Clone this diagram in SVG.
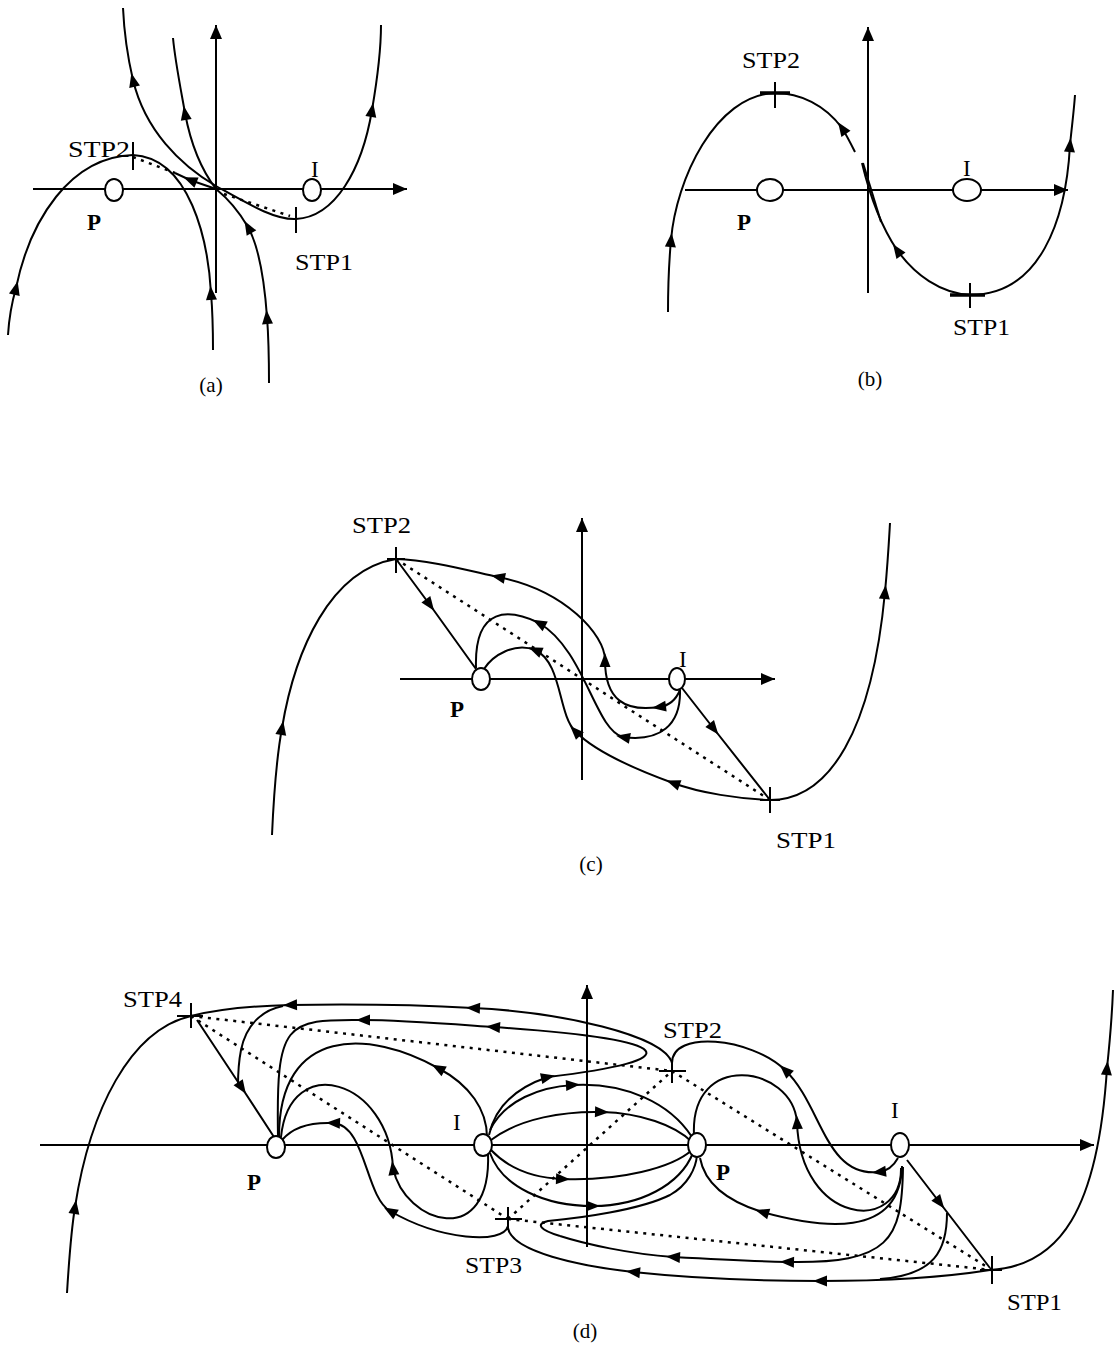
<svg xmlns="http://www.w3.org/2000/svg" width="1118" height="1352" viewBox="0 0 1118 1352">
<defs>
<marker id="ar" viewBox="-8 -6 16 12" refX="0" refY="0" markerWidth="16" markerHeight="12" markerUnits="userSpaceOnUse" orient="auto"><path d="M-7,-5.5 L7,0 L-7,5.5 Z" fill="#000"/></marker>
<marker id="ah" viewBox="-15 -7 16 14" refX="0" refY="0" markerWidth="16" markerHeight="14" markerUnits="userSpaceOnUse" orient="auto"><path d="M0,0 L-14,-6 L-14,6 Z" fill="#000"/></marker>
<style>
.c{fill:none;stroke:#000;stroke-width:2}
.m{marker-mid:url(#ar)}
.d{fill:none;stroke:#000;stroke-width:2.5;stroke-dasharray:3 5.5}
.ax{fill:none;stroke:#000;stroke-width:2;marker-end:url(#ah)}
.n{fill:#fff;stroke:#000;stroke-width:2}
.tk{fill:none;stroke:#000;stroke-width:2}
.t{font-family:"Liberation Serif","Times New Roman",serif;font-size:23px;fill:#000}
.b{font-weight:bold}
.cap{font-size:21px;text-anchor:middle}
</style>
</defs>
<rect width="1118" height="1352" fill="#fff"/>

<!-- Panel (a) -->
<g id="panel-a">
<g id="a-axes">
<path class="ax" d="M33,189 H407"/>
<path class="ax" d="M216,293 V25"/>
</g>
<g id="a-connectors">
<path class="c m" d="M8,335 C9,318 12,302 16,288 C30,220 70,157 133,155"/>
<path class="c m" d="M213,350 C213,325 212,305 211,293 C208,240 190,158 133,155"/>
<path class="c m" d="M216,186 C180,165 145,130 133,80 C126,50 124,30 123,8"/>
<path class="c" d="M216,186 C250,205 275,220 296,219"/>
<path class="c m" d="M296,219 C335,217 362,170 372,110 C378,75 381,45 381,25"/>
<path class="c m" d="M269,383 C269,350 268,330 267,317 C264,275 258,245 248,227 C238,210 226,197 216,189"/>
<path class="c m" d="M216,189 C200,168 190,140 185,113 C180,85 175,60 173,38"/>
<path class="c m" d="M216,189 L190,180 L175,173"/>
<path class="d" d="M133,157 L175,173"/>
<path class="d" d="M224,194 L290,216"/>
<path class="tk" d="M133,142 V170 M296,207 V233"/>
</g>
<g id="a-node-P"><ellipse class="n" cx="114" cy="190" rx="9" ry="11"/><text class="t b" x="87" y="230">P</text></g>
<g id="a-node-I"><ellipse class="n" cx="312" cy="190" rx="9" ry="11"/><text class="t" x="311" y="177">I</text></g>
<g id="a-labels">
<text class="t" x="68" y="157" textLength="62" lengthAdjust="spacingAndGlyphs">STP2</text>
<text class="t" x="295" y="270" textLength="58" lengthAdjust="spacingAndGlyphs">STP1</text>
<text class="t cap" x="211" y="392">(a)</text>
</g>
</g>

<!-- Panel (b) -->
<g id="panel-b">
<g id="b-axes">
<path class="ax" d="M685,190 H1068"/>
<path class="ax" d="M868,293 V27"/>
</g>
<g id="b-connectors">
<path class="c m" d="M668,312 C668,285 669,262 671,240 C676,180 715,95 775,93"/>
<path class="c m" d="M855,152 C851,144 847,136 842,128 C825,105 800,93 775,93"/>
<path class="c m" d="M970,295 C940,293 915,275 897,250 C885,232 872,205 862,163"/>
<path class="c m" d="M970,295 C1040,295 1066,220 1070,145 C1072,125 1074,110 1075,95"/>
<path class="c" d="M863,163 L881,222"/>
<path class="tk" d="M775,82 V108 M970,283 V308"/>
<path class="tk" style="stroke-width:3.5" d="M760,93 H790 M950,295 H985"/>
</g>
<g id="b-node-P"><ellipse class="n" cx="770" cy="190" rx="13" ry="11"/><text class="t b" x="737" y="230">P</text></g>
<g id="b-node-I"><ellipse class="n" cx="967" cy="190" rx="14" ry="11"/><text class="t" x="963" y="176">I</text></g>
<g id="b-labels">
<text class="t" x="742" y="68" textLength="58" lengthAdjust="spacingAndGlyphs">STP2</text>
<text class="t" x="953" y="335" textLength="57" lengthAdjust="spacingAndGlyphs">STP1</text>
<text class="t cap" x="870" y="386">(b)</text>
</g>
</g>

<!-- Panel (c) -->
<g id="panel-c">
<g id="c-axes">
<path class="ax" d="M400,679 H775"/>
<path class="ax" d="M582,780 V518"/>
</g>
<g id="c-connectors">
<path class="d" d="M396,559 L770,800"/>
<path class="c m" d="M272,835 C274,790 277,755 282,728 C295,650 330,570 396,559"/>
<path class="c m" d="M680,690 C675,702 668,706 659,707 C625,712 605,700 605,660 C605,635 565,590 498,577 C470,571 430,560 396,559"/>
<path class="c m" d="M680,690 C681,725 660,742 623,737 C595,730 585,650 539,623 C510,609 474,605 476,668"/>
<path class="c m" d="M770,800 C740,799 700,793 673,783 C640,771 595,752 575,731 C558,714 562,662 535,650 C515,642 493,655 484,669"/>
<path class="c m" d="M396,559 L430,605 L476,669"/>
<path class="c m" d="M682,688 L714,729 L770,800"/>
<path class="c m" d="M770,800 C830,800 872,730 885,592 C888,560 889,540 890,523"/>
<path class="tk" d="M396,547 V573 M387,559 H405 M770,787 V813 M760,800 H780"/>
</g>
<g id="c-node-P"><ellipse class="n" cx="481" cy="679" rx="9" ry="11"/><text class="t b" x="450" y="717">P</text></g>
<g id="c-node-I"><ellipse class="n" cx="677" cy="679" rx="8" ry="11"/><text class="t" x="679" y="667">I</text></g>
<g id="c-labels">
<text class="t" x="352" y="533" textLength="59" lengthAdjust="spacingAndGlyphs">STP2</text>
<text class="t" x="776" y="848" textLength="60" lengthAdjust="spacingAndGlyphs">STP1</text>
<text class="t cap" x="591" y="871">(c)</text>
</g>
</g>

<!-- Panel (d) -->
<g id="panel-d">
<g id="d-axes">
<path class="ax" d="M40,1145 H1094"/>
<path class="ax" d="M587,1247 V985"/>
</g>
<g id="d-connectors">
<path class="d" d="M191,1016 L672,1071"/>
<path class="d" d="M191,1016 L508,1219"/>
<path class="d" d="M672,1071 L992,1270"/>
<path class="d" d="M508,1219 L672,1071"/>
<path class="d" d="M508,1219 L992,1270"/>
<path class="c m" d="M67,1293 C69,1260 71,1232 75,1207 C90,1110 130,1030 191,1016"/>
<path class="c m" d="M990,1270 C1060,1266 1098,1210 1107,1068 C1110,1040 1112,1015 1113,990"/>
<path class="c m" d="M197,1020 L242,1088 L274,1137"/>
<path class="c m" d="M907,1160 L940,1203 L990,1268"/>
<path class="c m" d="M672,1063 C664,1035 560,1012 473,1008 C420,1005 350,1004 290,1005 C250,1006 215,1010 191,1016"/>
<path class="c" d="M283,1006 C262,1010 246,1025 241,1050 C238,1065 238,1078 238,1086"/>
<path class="c m" d="M489,1135 C495,1108 515,1088 548,1077 C690,1060 684,1040 493,1027 C450,1024 400,1020 363,1020 C285,1019 276,1022 278,1137"/>
<path class="c m" d="M487,1137 C487,1110 470,1085 438,1068 C370,1030 279,1025 279,1137"/>
<path class="c m" d="M488,1153 C492,1250 405,1225 393,1168 C389,1080 290,1050 281,1137"/>
<path class="c m" d="M508,1226 C503,1245 440,1240 390,1211 C365,1196 366,1125 333,1123 C310,1122 292,1128 282,1140"/>
<path class="c m" d="M990,1270 C940,1278 880,1281 820,1281 C750,1281 680,1277 633,1272 C580,1266 512,1252 508,1228"/>
<path class="c" d="M947,1213 C947,1250 935,1275 880,1279"/>
<path class="c m" d="M490,1130 C505,1100 540,1087 573,1085 C625,1082 670,1103 692,1137"/>
<path class="c m" d="M491,1140 C520,1118 565,1111 602,1112 C640,1113 675,1125 692,1142"/>
<path class="c m" d="M491,1150 C510,1170 535,1178 563,1179 C620,1181 672,1168 692,1150"/>
<path class="c m" d="M490,1153 C502,1187 545,1206 593,1206 C640,1206 680,1185 693,1153"/>
<path class="c m" d="M898,1158 C893,1167 887,1171 879,1172 C825,1178 822,1105 785,1070 C750,1037 672,1030 672,1063"/>
<path class="c m" d="M901,1168 C902,1235 800,1225 797,1122 C792,1065 690,1050 694,1135"/>
<path class="c m" d="M902,1166 C900,1240 820,1228 762,1212 C730,1202 705,1185 700,1158"/>
<path class="c m" d="M903,1167 C902,1240 890,1264 787,1262 C750,1261 710,1259 673,1257 C630,1254 585,1244 560,1236"/>
<path class="c" d="M560,1236 C540,1230 535,1224 548,1221 C580,1218 640,1210 670,1195 C688,1185 696,1168 697,1155"/>
<path class="tk" d="M191,1003 V1028 M177,1016 H203"/>
<path class="tk" d="M672,1060 V1083 M659,1071 H686"/>
<path class="tk" d="M508,1207 V1230 M495,1219 H522"/>
<path class="tk" d="M992,1256 V1284 M980,1270 H1002"/>
</g>
<g id="d-node-P1"><ellipse class="n" cx="276" cy="1147" rx="9" ry="11"/><text class="t b" x="247" y="1190">P</text></g>
<g id="d-node-I1"><ellipse class="n" cx="483" cy="1145" rx="9" ry="11"/><text class="t" x="453" y="1130">I</text></g>
<g id="d-node-P2"><ellipse class="n" cx="697" cy="1145" rx="9" ry="12"/><text class="t b" x="716" y="1180">P</text></g>
<g id="d-node-I2"><ellipse class="n" cx="900" cy="1145" rx="9" ry="12"/><text class="t" x="891" y="1118">I</text></g>
<g id="d-labels">
<text class="t" x="123" y="1007" textLength="59" lengthAdjust="spacingAndGlyphs">STP4</text>
<text class="t" x="663" y="1038" textLength="59" lengthAdjust="spacingAndGlyphs">STP2</text>
<text class="t" x="465" y="1273" textLength="57" lengthAdjust="spacingAndGlyphs">STP3</text>
<text class="t" x="1007" y="1310" textLength="55" lengthAdjust="spacingAndGlyphs">STP1</text>
<text class="t cap" x="585" y="1338">(d)</text>
</g>
</g>
</svg>
